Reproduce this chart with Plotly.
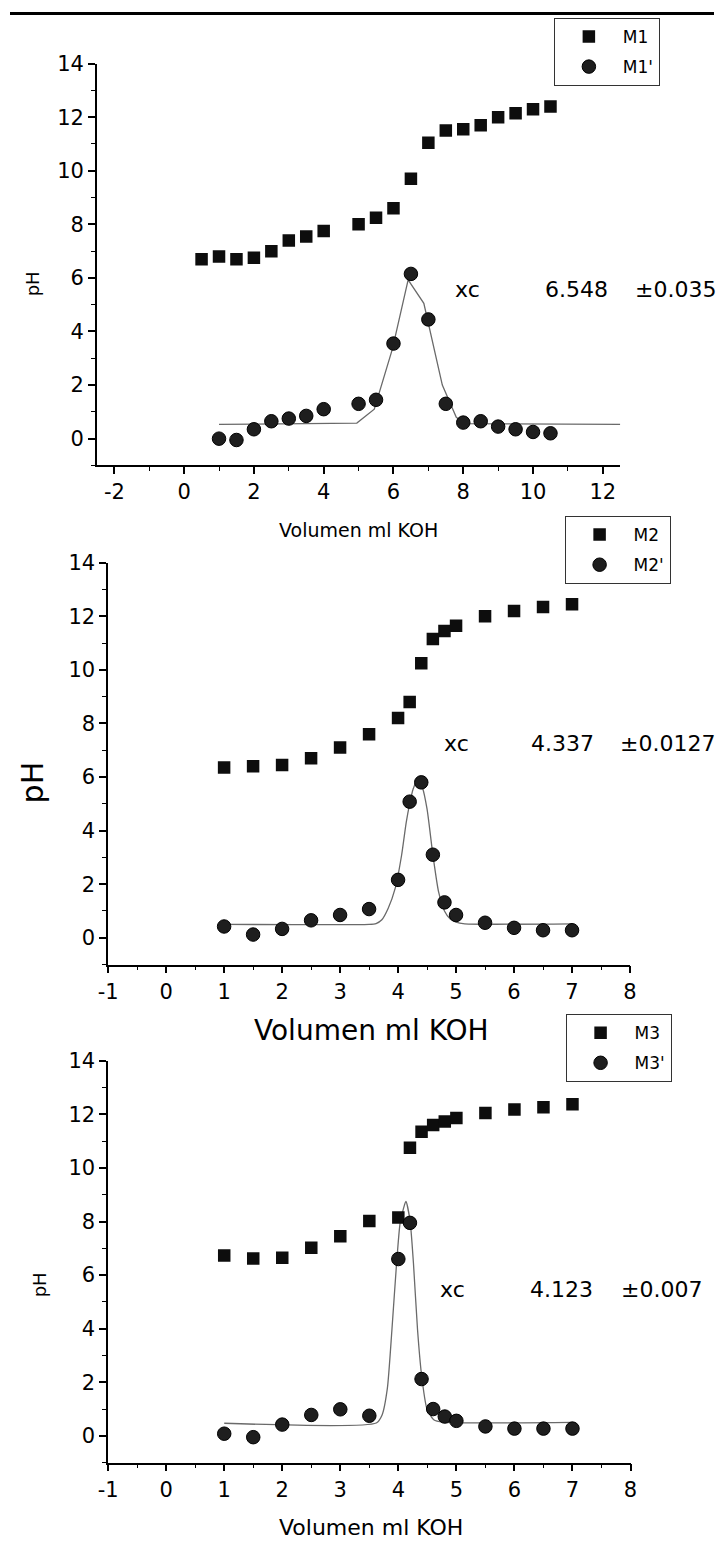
import plotly.graph_objects as go

W, H = 721, 1543

# ---- titration data: volume of KOH (ml) vs pH, and first-derivative series ----
vol1 = [0.5, 1, 1.5, 2, 2.5, 3, 3.5, 4, 5, 5.5, 6, 6.5, 7, 7.5, 8, 8.5, 9, 9.5, 10, 10.5]
ph_m1 = [6.7, 6.8, 6.7, 6.75, 7.0, 7.4, 7.55, 7.75, 8.0, 8.25, 8.6, 9.7, 11.05, 11.5,
         11.55, 11.7, 12.0, 12.15, 12.3, 12.4]
vol1d = [1, 1.5, 2, 2.5, 3, 3.5, 4, 5, 5.5, 6, 6.5, 7, 7.5, 8, 8.5, 9, 9.5, 10, 10.5]
d_m1 = [0.0, -0.05, 0.35, 0.65, 0.75, 0.85, 1.1, 1.3, 1.45, 3.55, 6.15, 4.45, 1.3, 0.6,
        0.65, 0.45, 0.35, 0.25, 0.2]
fit1_x = [1, 4.95, 5.45, 5.97, 6.42, 6.87, 7.4, 7.8, 8.05, 12.5]
fit1_y = [0.53, 0.58, 1.1, 3.35, 5.93, 5.05, 2.0, 0.8, 0.56, 0.53]

vol2 = [1, 1.5, 2, 2.5, 3, 3.5, 4, 4.2, 4.4, 4.6, 4.8, 5, 5.5, 6, 6.5, 7]
ph_m2 = [6.35, 6.4, 6.45, 6.7, 7.1, 7.6, 8.2, 8.8, 10.25, 11.15, 11.45, 11.65, 12.0,
         12.2, 12.35, 12.45]
d_m2 = [0.42, 0.12, 0.33, 0.65, 0.85, 1.07, 2.16, 5.08, 5.8, 3.1, 1.32, 0.85, 0.56,
        0.37, 0.28, 0.28]
fit2_x = [1, 3.5, 3.62, 3.72, 3.83, 3.95, 4.06, 4.14, 4.2, 4.26, 4.34, 4.42, 4.5, 4.6,
          4.7, 4.8, 4.9, 5.0, 5.15, 7.0]
fit2_y = [0.5, 0.5, 0.53, 0.67, 1.1, 1.84, 3.07, 4.3, 5.0, 5.55, 5.9, 5.6, 4.8, 3.1,
          1.7, 1.0, 0.7, 0.58, 0.52, 0.52]

vol3 = [1, 1.5, 2, 2.5, 3, 3.5, 4, 4.2, 4.4, 4.6, 4.8, 5, 5.5, 6, 6.5, 7]
ph_m3 = [6.73, 6.62, 6.65, 7.02, 7.45, 8.02, 8.15, 10.75, 11.35, 11.6, 11.73, 11.86,
         12.05, 12.18, 12.27, 12.38]
d_m3 = [0.08, -0.05, 0.42, 0.78, 0.99, 0.75, 6.6, 7.95, 2.12, 1.0, 0.72, 0.56, 0.35,
        0.27, 0.27, 0.27]
fit3_x = [1, 3.62, 3.72, 3.81, 3.89, 3.97, 4.03, 4.09, 4.13, 4.2, 4.26, 4.33, 4.4, 4.49,
          4.61, 4.77, 7.0]
fit3_y = [0.47, 0.48, 0.78, 1.76, 3.98, 6.45, 7.94, 8.5, 8.75, 8.06, 6.45, 3.98, 2.27,
          1.03, 0.6, 0.51, 0.5]

# tick labels (plain hyphen for negatives)
xticks_1 = [-2, 0, 2, 4, 6, 8, 10, 12]
xticks_23 = [-1, 0, 1, 2, 3, 4, 5, 6, 7, 8]
yticks = [0, 2, 4, 6, 8, 10, 12, 14]

# fitted peak centres and their errors
fit_labels = [("6.548", "\u00b10.035"), ("4.337", "\u00b10.0127"), ("4.123", "\u00b10.007")]
series_names = [("M1", "M1'"), ("M2", "M2'"), ("M3", "M3'")]

FONT = "DejaVu Sans, Liberation Sans, sans-serif"

# ---- panel geometry (pixels) ----
panels = [
    dict(x0=89, x1=625, y0=52, y1=457, xr=[-2.5, 12.5], ticks=xticks_1, mdt=1),
    dict(x0=100.5, x1=635, y0=555, y1=960, xr=[-1, 8], ticks=xticks_23, mdt=0.5),
    dict(x0=100.5, x1=635.5, y0=1057, y1=1462, xr=[-1, 8], ticks=xticks_23, mdt=0.5),
]

def px(x):
    return x / W

def py(y):
    return 1 - y / H

data_sets = [
    (vol1, ph_m1, vol1d, d_m1, fit1_x, fit1_y, "linear"),
    (vol2, ph_m2, vol2, d_m2, fit2_x, fit2_y, "spline"),
    (vol3, ph_m3, vol3, d_m3, fit3_x, fit3_y, "spline"),
]

fig = go.Figure()

for i, (vx, ph, vd, dd, fx, fy, shape) in enumerate(data_sets):
    k = "" if i == 0 else str(i + 1)
    xa, ya = "x" + k, "y" + k
    leg = "legend" + k
    fig.add_trace(go.Scatter(
        x=fx, y=fy, mode="lines", xaxis=xa, yaxis=ya, showlegend=False,
        legend=leg, legendgroup="a" + k,
        line=dict(color="#6a6a6a", width=1.3, shape=shape, smoothing=0.6),
        hoverinfo="skip"))
    fig.add_trace(go.Scatter(
        x=vx, y=ph, mode="markers", name=series_names[i][0], xaxis=xa, yaxis=ya,
        legend=leg, legendgroup="a" + k,
        marker=dict(symbol="square", size=12.5, color="#0d0d0d",
                    line=dict(width=0))))
    fig.add_trace(go.Scatter(
        x=vd, y=dd, mode="markers", name=series_names[i][1], xaxis=xa, yaxis=ya,
        legend=leg, legendgroup="b" + k,
        marker=dict(symbol="circle", size=13.5, color="#1e1e1e",
                    line=dict(width=1, color="#000000"))))

layout = dict(
    width=W, height=H, margin=dict(l=0, r=0, t=0, b=0),
    paper_bgcolor="white", plot_bgcolor="white",
    font=dict(family=FONT, color="black", size=20),
)

for i, p in enumerate(panels):
    k = "" if i == 0 else str(i + 1)
    axis_common = dict(
        showgrid=False, zeroline=False, showline=True, linecolor="black", linewidth=1.6,
        ticks="outside", ticklen=7, tickwidth=1.5, tickcolor="black",
        tickfont=dict(family=FONT, size=21, color="black"),
    )
    layout["xaxis" + k] = dict(
        axis_common, domain=[px(p["x0"]), px(p["x1"])], range=p["xr"],
        anchor="y" + k, tickmode="array", tickvals=p["ticks"],
        ticktext=[str(v) for v in p["ticks"]],
        minor=dict(tickmode="linear", dtick=p["mdt"], tick0=0, ticklen=4, tickwidth=1.3,
                   tickcolor="black", ticks="outside", showgrid=False),
    )
    layout["yaxis" + k] = dict(
        axis_common, domain=[py(p["y1"]), py(p["y0"])], range=[-1, 14],
        anchor="x" + k, tickmode="array", tickvals=yticks,
        ticktext=[str(v) for v in yticks],
        minor=dict(tickmode="linear", dtick=1, tick0=0, ticklen=4, tickwidth=1.3,
                   tickcolor="black", ticks="outside", showgrid=False),
    )

# legend boxes, one per panel
legend_pos = [(557, 6), (568, 508), (569, 1010)]
for i, (lx, ly) in enumerate(legend_pos):
    k = "" if i == 0 else str(i + 1)
    layout["legend" + k] = dict(
        x=px(lx), y=py(ly), xanchor="left", yanchor="top",
        bordercolor="#333333", borderwidth=1, bgcolor="white",
        font=dict(family=FONT, size=17, color="black"),
        itemwidth=58, tracegroupgap=5,
    )

fig.update_layout(**layout)

# axis titles
x_titles = [(357, 522, 19), (370, 1026, 28), (370, 1527, 22)]
y_titles = [(23, 274, 18), (24, 776, 30), (30, 1283, 18)]
for (tx, ty, fs) in x_titles:
    fig.add_annotation(text="Volumen ml KOH", x=px(tx), y=py(ty), xref="paper",
                       yref="paper", showarrow=False, xanchor="center", yanchor="middle",
                       font=dict(family=FONT, size=fs, color="black"))
for (tx, ty, fs) in y_titles:
    fig.add_annotation(text="pH", x=px(tx), y=py(ty), xref="paper", yref="paper",
                       showarrow=False, textangle=-90, xanchor="center",
                       yanchor="middle", font=dict(family=FONT, size=fs, color="black"))

# fitted centre parameters
param_rows = [(280, 454, 546, 638), (737, 442, 532, 623), (1288, 438, 530, 624)]
for (ry, x_xc, x_val, x_err), (val, err) in zip(param_rows, fit_labels):
    for tx, txt in ((x_xc, "xc"), (x_val, val), (x_err, err)):
        fig.add_annotation(text=txt, x=px(tx), y=py(ry), xref="paper", yref="paper",
                           showarrow=False, xanchor="left", yanchor="middle",
                           font=dict(family=FONT, size=22, color="black"))

# dark page edge along the top
fig.add_shape(type="rect", xref="paper", yref="paper", x0=0, x1=1, y0=py(3), y1=1,
              fillcolor="black", line=dict(width=0))

fig.write_html("out.html")
